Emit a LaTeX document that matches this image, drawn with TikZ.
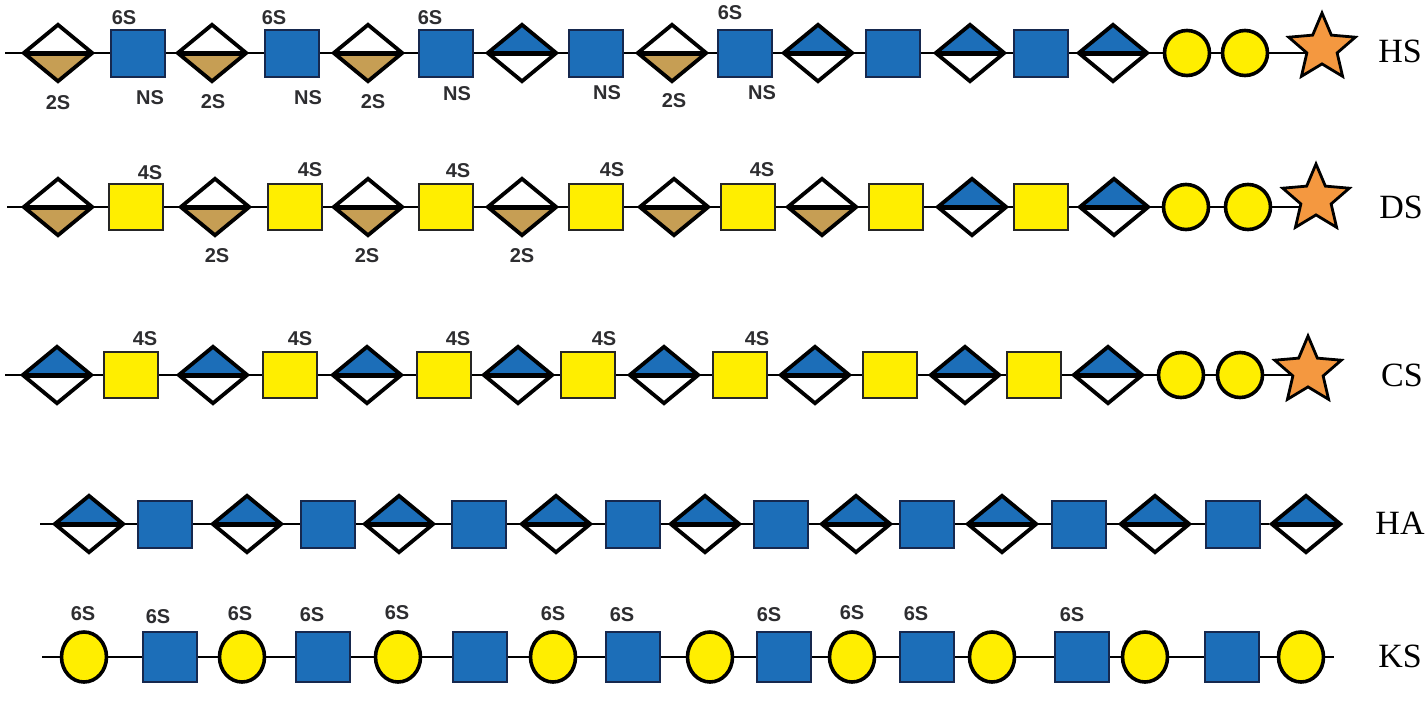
\documentclass[tikz,border=0pt]{standalone}
\usepackage{fontspec}
\setmainfont{Liberation Serif}
\setsansfont{Liberation Sans}
\usetikzlibrary{positioning,shapes.geometric,backgrounds}
\definecolor{snblue}{RGB}{28,110,184}
\definecolor{sntan}{RGB}{198,158,84}
\definecolor{snyellow}{RGB}{255,238,0}
\definecolor{snorange}{RGB}{244,152,64}
\definecolor{navy}{RGB}{22,40,78}
\definecolor{ink}{RGB}{45,45,48}
\tikzset{
  halfdiam/.style 2 args={diamond,draw=black,line width=3.8pt,fill=#2,
    minimum width=70pt,minimum height=58pt,inner sep=0pt,
    path picture={
      \fill[#1] (path picture bounding box.west) -- (path picture bounding box.north)
        -- (path picture bounding box.east) -- cycle;
      \draw[line width=5pt] (path picture bounding box.west) -- (path picture bounding box.east);
    }},
  glca/.style={halfdiam={snblue}{white}},
  idoa/.style={halfdiam={white}{sntan}},
  glcnac/.style={rectangle,draw=navy,line width=2pt,fill=snblue,
    minimum width=54pt,minimum height=47pt,inner sep=0pt},
  galnac/.style={rectangle,draw=black!85,line width=2.4pt,fill=snyellow,
    minimum width=54pt,minimum height=46pt,inner sep=0pt},
  gal/.style={ellipse,draw=black,line width=3.6pt,fill=snyellow,
    minimum width=45pt,minimum height=45pt,inner sep=0pt},
  xyl/.style={star,star points=5,star point ratio=2.2,draw=black,line width=2.8pt,
    fill=snorange,minimum size=70pt,inner sep=0pt},
  backbone/.style={draw=black,line width=2.6pt},
  sulf/.style={font=\sffamily\bfseries\fontsize{20}{22}\selectfont,text=ink,inner sep=0pt},
  gag/.style={font=\fontsize{34}{36}\selectfont,inner sep=0pt},
}
\begin{document}
\begin{tikzpicture}[x=1pt,y=-1pt]
  \useasboundingbox (0,0) rectangle (1426,713);
  % HS
  \coordinate (hs0) at (5,53);
  \foreach \s/\x [count=\i] in {idoa/58,glcnac/138,idoa/212,glcnac/292,idoa/368,glcnac/446,
      glca/522,glcnac/596,idoa/672,glcnac/745,glca/818,glcnac/893,glca/970,glcnac/1041,
      glca/1113,gal/1187,gal/1245}
    \node[\s] (hs\i) at (\x,53) {};
  \node[xyl] (hs18) at (1322,48) {};
  \node[gag] (lhs) at (1400,51) {HS};
  \foreach \n/\t/\dx/\gap in {hs2/6S/-14/4,hs4/6S/-18/4,hs6/6S/-16/4,hs10/6S/-15/9}
    \node[sulf,above=\gap pt of \n.north,xshift=\dx pt] (\n-\t) {\t};
  \foreach \n/\t/\dx/\gap in {hs1/2S/0/11,hs2/NS/12/13,hs3/2S/1/10,hs4/NS/16/13,hs5/2S/5/10,
      hs6/NS/11/9,hs8/NS/11/8,hs9/2S/2/9,hs10/NS/17/8}
    \node[sulf,below=\gap pt of \n.south,xshift=\dx pt] (\n-\t) {\t};
  % DS
  \coordinate (ds0) at (7,207);
  \foreach \s/\x [count=\i] in {idoa/58,galnac/136,idoa/215,galnac/295,idoa/368,galnac/446,
      idoa/522,galnac/596,idoa/674,galnac/748,idoa/822,galnac/896,glca/972,galnac/1041,
      glca/1114,gal/1186,gal/1248}
    \node[\s] (ds\i) at (\x,207) {};
  \node[xyl] (ds18) at (1316,199) {};
  \node[gag] (lds) at (1401,207) {DS};
  \foreach \n/\t/\dx/\gap in {ds2/4S/14/3,ds4/4S/15/6,ds6/4S/12/5,ds8/4S/16/6,ds10/4S/14/6}
    \node[sulf,above=\gap pt of \n.north,xshift=\dx pt] (\n-\t) {\t};
  \foreach \n/\t/\dx/\gap in {ds3/2S/2/10,ds5/2S/-1/10,ds7/2S/0/10}
    \node[sulf,below=\gap pt of \n.south,xshift=\dx pt] (\n-\t) {\t};
  % CS
  \coordinate (cs0) at (5,375);
  \foreach \s/\x [count=\i] in {glca/57,galnac/131,glca/213,galnac/290,glca/367,galnac/444,
      glca/518,galnac/588,glca/664,galnac/740,glca/815,galnac/890,glca/965,galnac/1034,
      glca/1108,gal/1181,gal/1240}
    \node[\s] (cs\i) at (\x,375) {};
  \node[xyl] (cs18) at (1308,371) {};
  \node[gag] (lcs) at (1402,375) {CS};
  \foreach \n/\t/\dx/\gap in {cs2/4S/14/5,cs4/4S/10/5,cs6/4S/14/5,cs8/4S/16/5,cs10/4S/17/5}
    \node[sulf,above=\gap pt of \n.north,xshift=\dx pt] (\n-\t) {\t};
  % HA
  \coordinate (ha0) at (40,524);
  \foreach \s/\x [count=\i] in {glca/89,glcnac/165,glca/247,glcnac/328,glca/399,glcnac/479,
      glca/556,glcnac/633,glca/705,glcnac/781,glca/856,glcnac/927,glca/1002,glcnac/1079,
      glca/1155,glcnac/1233,glca/1306}
    \node[\s] (ha\i) at (\x,524) {};
  \node[gag] (lha) at (1400,523) {HA};
  % KS
  \coordinate (ks0) at (42,657);
  \foreach \s/\x [count=\i] in {gal/84,glcnac/170,gal/242,glcnac/323,gal/398,glcnac/480,
      gal/553,glcnac/633,gal/710,glcnac/784,gal/852,glcnac/927,gal/992,glcnac/1082,
      gal/1145,glcnac/1232,gal/1301}
    \node[\s,minimum height=50pt] (ks\i) at (\x,657) {};
  \coordinate (ks18) at (1334,657);
  \node[gag] (lks) at (1400,656) {KS};
  \foreach \n/\t/\dx/\gap in {ks1/6S/-1/9,ks2/6S/-12/7,ks3/6S/-2/9,ks4/6S/-11/9,
      ks5/6S/-1/10,ks7/6S/0/9,ks8/6S/-11/9,ks10/6S/-15/9,ks11/6S/0/10,
      ks12/6S/-11/10,ks14/6S/-10/9}
    \node[sulf,above=\gap pt of \n.north,xshift=\dx pt] (\n-\t) {\t};
  % chains
  \begin{scope}[on background layer]
    \draw[backbone] (hs0) -- (hs0 -| hs18);
    \draw[backbone] (ds0) -- (ds0 -| ds18);
    \draw[backbone] (cs0) -- (cs0 -| cs18);
    \draw[backbone] (ha0) -- (ha17);
    \draw[backbone] (ks0) -- (ks18);
  \end{scope}
\end{tikzpicture}
\end{document}
